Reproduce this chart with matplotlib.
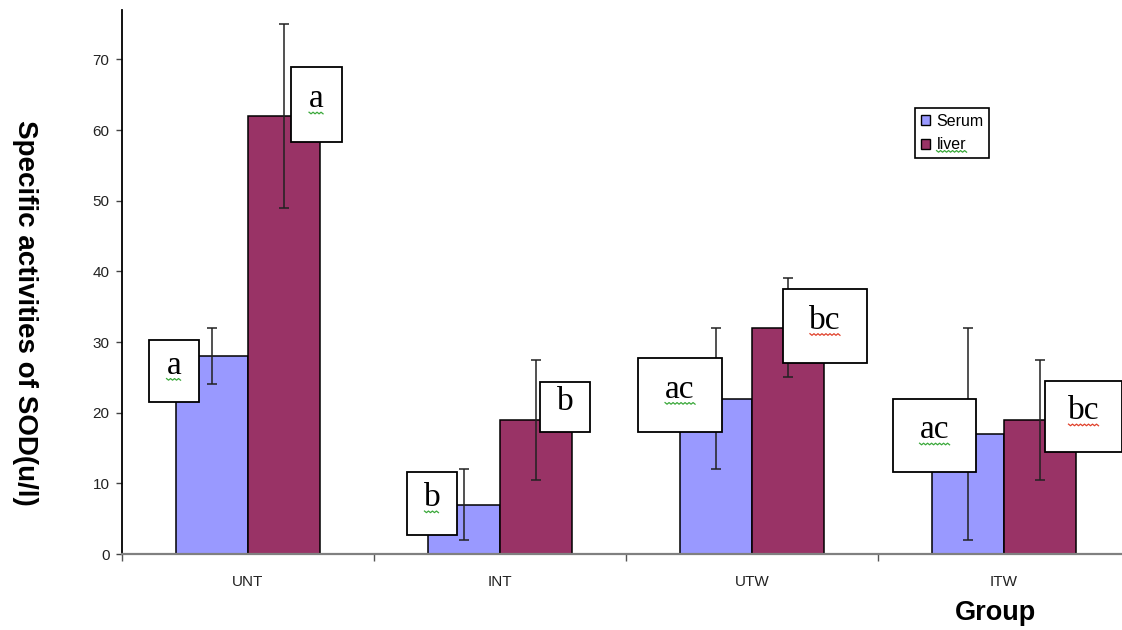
import numpy as np
import matplotlib
matplotlib.use("Agg")
import matplotlib.pyplot as plt
from matplotlib.patches import Rectangle, Patch
from matplotlib.transforms import ScaledTranslation

# ---- data ----
groups = ["UNT", "INT", "UTW", "ITW"]
serum = [28, 7, 22, 17]
serum_err = [4, 5, 10, 15]
liver = [62, 19, 32, 19]
liver_err = [13, 8.5, 7, 8.5]
serum_letters = ["a", "b", "ac", "ac"]
liver_letters = ["a", "b", "bc", "bc"]
yticks = [0, 10, 20, 30, 40, 50, 60, 70]

# ---- layout of letter boxes (x0, x1, y0, y1) in data coords ----
serum_boxes = [(-0.393, -0.194, 21.5, 30.3), (0.631, 0.829, 2.7, 11.6),
               (1.548, 1.881, 17.3, 27.7), (2.560, 2.889, 11.6, 21.9)]
liver_boxes = [(0.171, 0.373, 58.3, 68.9), (1.159, 1.357, 17.3, 24.3),
               (2.123, 2.456, 27.0, 37.5), (3.163, 3.468, 14.4, 24.5)]
serum_sq = ["#3aa83a", "#3aa83a", "#3aa83a", "#3aa83a"]
liver_sq = ["#3aa83a", None, "#e0402a", "#e0402a"]

SERUM_C = "#9999FF"
LIVER_C = "#993366"

fig = plt.figure(figsize=(11.22, 6.3), dpi=100)
ax = fig.add_axes([122 / 1122, 76 / 630, 1008 / 1122, 544 / 630])

x = np.arange(len(groups))
w = 72 / 252
ax.bar(x - w / 2, serum, width=w, color=SERUM_C, edgecolor="black", linewidth=1.1, zorder=2, label="Serum")
ax.bar(x + w / 2, liver, width=w, color=LIVER_C, edgecolor="black", linewidth=1.1, zorder=2, label="liver")
ax.errorbar(x - w / 2, serum, yerr=serum_err, fmt="none", ecolor="#222222", elinewidth=1.1,
            capsize=3.5, capthick=1.1, zorder=3)
ax.errorbar(x + w / 2, liver, yerr=liver_err, fmt="none", ecolor="#222222", elinewidth=1.1,
            capsize=3.5, capthick=1.1, zorder=3)


def letter_box(box, label, sqc):
    x0, x1, y0, y1 = box
    ax.add_patch(Rectangle((x0, y0), x1 - x0, y1 - y0, facecolor="white", edgecolor="black",
                           linewidth=1.3, zorder=5, clip_on=False))
    cx = (x0 + x1) / 2
    cy = (y0 + y1) / 2 + 0.8
    ax.text(cx, cy, label, ha="center", va="center", fontsize=24,
            family="Liberation Serif", color="black", zorder=6, clip_on=False)
    if sqc:
        tr = fig.dpi_scale_trans + ScaledTranslation(cx, cy, ax.transData)
        n_px = 15 * len(label)
        xs = (np.arange(0, n_px + 1, 2) - n_px / 2) / 100.0
        ys = (np.where(np.arange(len(xs)) % 2 == 0, 0.8, -0.8) - 14) / 100.0
        ax.plot(xs, ys, color=sqc, lw=0.9, transform=tr, zorder=7, clip_on=False)


for b, l, c in zip(serum_boxes, serum_letters, serum_sq):
    letter_box(b, l, c)
for b, l, c in zip(liver_boxes, liver_letters, liver_sq):
    letter_box(b, l, c)

ax.set_xlim(-0.5, 3.5)
ax.set_ylim(0, 77)
ax.set_yticks(yticks)
ax.set_yticklabels([str(t) for t in yticks], fontsize=11, family="Liberation Sans", color="#222222")
ax.tick_params(axis="y", length=4, width=1, color="#444444", pad=5)
ax.set_xticks(x)
ax.set_xticklabels(groups, fontsize=11, family="Liberation Sans", color="#222222")
ax.set_xticks([-0.5, 0.5, 1.5, 2.5], minor=True)
ax.tick_params(axis="x", which="major", length=0, pad=15)
ax.tick_params(axis="x", which="minor", length=5, width=1, color="#555555")

for s in ["top", "right"]:
    ax.spines[s].set_visible(False)
ax.spines["left"].set_color("black")
ax.spines["left"].set_linewidth(1.3)
ax.spines["bottom"].set_color("#808080")
ax.spines["bottom"].set_linewidth(1.6)

leg = ax.legend(handles=[Patch(facecolor=SERUM_C, edgecolor="black"),
                         Patch(facecolor=LIVER_C, edgecolor="black")],
                labels=["Serum", "liver"], loc="upper left",
                bbox_to_anchor=(915 / 1122, 1 - 108 / 630), bbox_transform=fig.transFigure,
                frameon=True, fancybox=False, framealpha=1, edgecolor="black",
                prop={"family": "Liberation Sans", "size": 11.5},
                handlelength=0.6, handleheight=0.6, handletextpad=0.4,
                borderpad=0.35, labelspacing=0.55, borderaxespad=0)
leg.get_frame().set_linewidth(1.2)

# spell-check squiggle under "liver" in legend
fig.canvas.draw()
lt = leg.get_texts()[1]
bb = lt.get_window_extent()
sx = np.arange(bb.x0, bb.x1 + 1, 2)
sy = bb.y0 + 1 + np.where(np.arange(len(sx)) % 2 == 0, 0.8, -0.8)
fig.add_artist(plt.Line2D(sx / 1122, sy / 630, color="#3aa83a", lw=0.9, transform=fig.transFigure, zorder=10))

fig.text(25 / 1122, 1 - 313 / 630, "Specific activities of SOD(u/l)", rotation=270,
         ha="center", va="center", fontsize=20, fontweight="bold", family="Liberation Sans")
fig.text(995 / 1122, 1 - 613 / 630, "Group", ha="center", va="center", fontsize=19.5,
         fontweight="bold", family="Liberation Sans")

fig.savefig("out.png", dpi=100)
